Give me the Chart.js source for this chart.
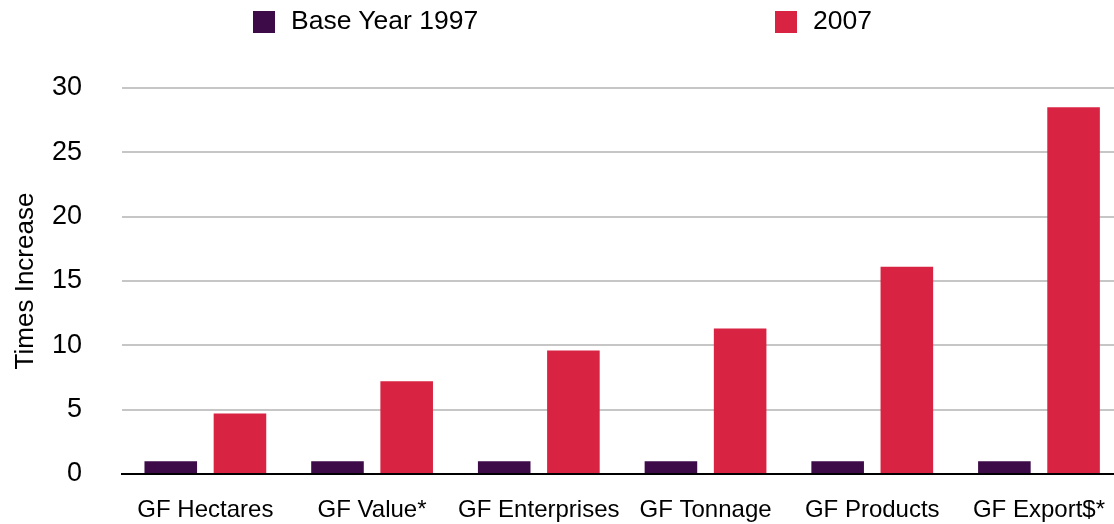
<!DOCTYPE html>
<html>
<head>
<meta charset="utf-8">
<script src="https://cdn.jsdelivr.net/npm/chart.js@4"></script>
<style>
html, body { margin: 0; padding: 0; overflow: hidden; background: #fff; }
#wrap { position: relative; width: 1127px; height: 524px; }
.lg-box { position: absolute; width: 22px; height: 22px; top: 11px; }
.lg-text { position: absolute; top: 4px; font: 26.5px Helvetica, "Liberation Sans", Arial, sans-serif; color: #000; line-height: 32px; white-space: nowrap; }
</style>
</head>
<body>
<div id="wrap">
  <canvas id="grafico" width="1127" height="524"></canvas>
</div>
<script>
// categorias e valores
var categorias = ['GF Hectares', 'GF Value*', 'GF Enterprises', 'GF Tonnage', 'GF Products', 'GF Export$*'];
var base1997 = [1, 1, 1, 1, 1, 1];
var ano2007 = [4.7, 7.2, 9.6, 11.3, 16.1, 28.5];
var series = ['Base Year 1997', '2007'];
var cores = ['#3d0b48', '#d82342'];
var yTicks = [0, 5, 10, 15, 20, 25, 30];

// legenda em html
var legendaX = [253, 775];
var wrap = document.getElementById('wrap');
series.forEach(function (nome, i) {
    var box = document.createElement('div');
    box.className = 'lg-box';
    box.style.left = legendaX[i] + 'px';
    box.style.background = cores[i];
    wrap.appendChild(box);
    var txt = document.createElement('div');
    txt.className = 'lg-text';
    txt.style.left = (legendaX[i] + 38) + 'px';
    txt.textContent = nome;
    wrap.appendChild(txt);
});

var fonte = 'Helvetica, "Liberation Sans", Arial, sans-serif';
var ctx = document.getElementById('grafico').getContext('2d');
var chart = new Chart(ctx, {
    type: 'bar',
    data: {
        labels: categorias,
        datasets: [{
            label: series[0],
            backgroundColor: cores[0],
            data: base1997
        }, {
            label: series[1],
            backgroundColor: cores[1],
            data: ano2007
        }]
    },
    options: {
        responsive: false,
        animation: false,
        categoryPercentage: 0.83,
        barPercentage: 0.76,
        layout: { padding: { top: 88, left: 6, right: 0, bottom: 0 } },
        plugins: {
            legend: { display: false },
            tooltip: { enabled: false }
        },
        scales: {
            x: {
                grid: { display: false, drawTicks: false },
                border: { color: '#000', width: 2 },
                ticks: { color: '#000', font: { family: fonte, size: 24 }, padding: 22, maxRotation: 0 },
                // altura fixa do eixo (chart.js reserva 2x o padding)
                afterFit: function (axis) { axis.height = 50; }
            },
            y: {
                min: 0,
                max: 30,
                afterBuildTicks: function (axis) {
                    axis.ticks = yTicks.map(function (v) { return { value: v }; });
                },
                afterFit: function (axis) {
                    axis.width = 116;
                    axis.paddingBottom = 0;
                },
                grid: { color: '#c6c6c6', lineWidth: 2, drawTicks: false },
                border: { display: false },
                ticks: { color: '#000', font: { family: fonte, size: 27 }, padding: 40 },
                title: {
                    display: true,
                    text: 'Times Increase',
                    color: '#000',
                    font: { family: fonte, size: 26 },
                    padding: { top: 4, bottom: 4 }
                }
            }
        }
    }
});
</script>
</body>
</html>
